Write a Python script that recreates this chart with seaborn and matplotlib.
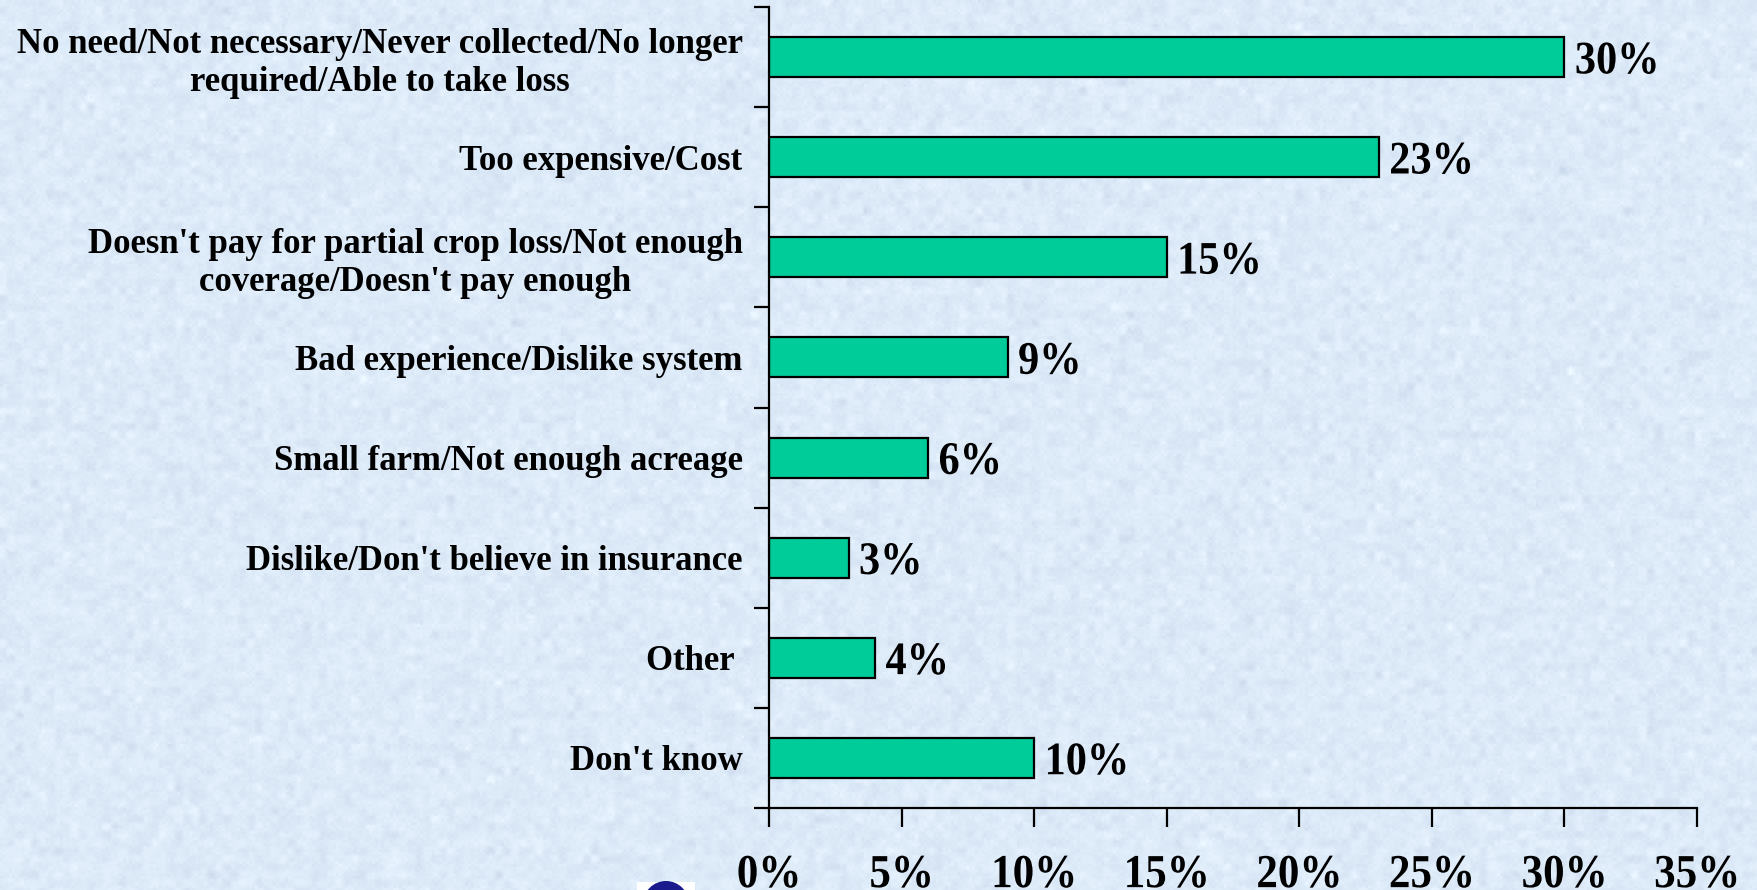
import matplotlib
matplotlib.use("Agg")
import matplotlib.pyplot as plt
import seaborn as sns
import pandas as pd
import numpy as np
from matplotlib.patches import Ellipse, Rectangle
from matplotlib.ticker import FixedLocator
from matplotlib.patheffects import AbstractPathEffect
from matplotlib.transforms import Affine2D

reasons = [
    "No need/Not necessary/Never collected/No longer\nrequired/Able to take loss",
    "Too expensive/Cost",
    "Doesn't pay for partial crop loss/Not enough\ncoverage/Doesn't pay enough",
    "Bad experience/Dislike system",
    "Small farm/Not enough acreage",
    "Dislike/Don't believe in insurance",
    "Other ",
    "Don't know",
]
shares = [30, 23, 15, 9, 6, 3, 4, 10]
x_ticks = [0, 5, 10, 15, 20, 25, 30, 35]
x_tick_labels = [f"{t}%" for t in x_ticks]

df = pd.DataFrame({"reason": reasons, "share": shares})


class TallText(AbstractPathEffect):
    """Draw glyphs slightly taller, stretching about a fixed glyph height."""

    def __init__(self, factor, anchor):
        super().__init__()
        self.stretch = (Affine2D().translate(0, -anchor)
                        .scale(1, factor).translate(0, anchor))

    def draw_path(self, renderer, gc, tpath, affine, rgbFace=None):
        renderer.draw_path(gc, tpath, self.stretch + affine, rgbFace)


sns.set_theme(style="white")
plt.rcParams["font.family"] = ["Liberation Serif", "DejaVu Serif"]
plt.rcParams["font.weight"] = "bold"

W, H = 1758, 890
fig = plt.figure(figsize=(W / 100, H / 100), dpi=100)
bg = "#dce9f8"
fig.patch.set_facecolor(bg)


def box_blur(a, k):
    pad = k // 2
    a = np.pad(a, pad, mode="edge")
    c = np.cumsum(a, axis=0)
    a = (c[k:] - c[:-k]) / k
    c = np.cumsum(a, axis=1)
    return (c[:, k:] - c[:, :-k]) / k


# mottled pale-blue paper backdrop
rng = np.random.default_rng(7)
coarse = rng.normal(0, 1, (H // 8 + 3, W // 8 + 3))
coarse = np.kron(coarse, np.ones((8, 8)))
coarse = box_blur(coarse, 5)[:H, :W]
fine = rng.normal(0, 1, (H // 3 + 3, W // 3 + 3))
fine = np.kron(fine, np.ones((3, 3)))[:H, :W]
tex = 0.8 * coarse + 0.35 * fine
base = np.array([221, 234, 248], dtype=float)
tint = np.array([5.0, 4.5, 3.0])
img = np.clip(base[None, None, :] + tex[..., None] * tint[None, None, :], 0, 255) / 255.0
fig.figimage(img, 0, 0, zorder=-10, origin="upper")

ax = fig.add_axes([769 / W, 1 - 808 / H, (1697 - 769) / W, (808 - 7) / H])
ax.set_facecolor("none")

sns.barplot(data=df, x="share", y="reason", orient="h", color="#00cc99",
            edgecolor="black", linewidth=1.6, width=0.4, saturation=1, ax=ax)

ax.set_xlim(0, 35)
ax.set_ylim(len(reasons) - 0.5, -0.5)
ax.set_xlabel("")
ax.set_ylabel("")

for container in ax.containers:
    texts = ax.bar_label(container, labels=[f"{v}%" for v in shares], padding=8,
                         fontsize=30.5, fontweight="bold", color="black")
    for t in texts:
        t.xyann = (7.5, -3.5)
        t.set_path_effects([TallText(1.1, 34)])

ax.set_xticks(x_ticks)
ax.set_xticklabels(x_tick_labels, fontsize=31, fontweight="bold", color="black")
for t in ax.get_xticklabels():
    t.set_path_effects([TallText(1.1, 68)])
ax.tick_params(axis="x", direction="out", length=14, width=1.6, pad=20,
               colors="black", bottom=True)

ax.set_yticks(range(len(reasons)))
ax.set_yticklabels(reasons, fontsize=25, fontweight="bold", color="black",
                   multialignment="center")
ax.tick_params(axis="y", which="major", length=0, pad=19)
ax.yaxis.set_minor_locator(FixedLocator(np.arange(-0.5, len(reasons), 1.0)))
ax.tick_params(axis="y", which="minor", direction="out", length=11, width=1.6,
               left=True, color="black")

for side in ("top", "right"):
    ax.spines[side].set_visible(False)
for side in ("left", "bottom"):
    ax.spines[side].set_color("black")
    ax.spines[side].set_linewidth(1.6)

# logo peeking in at the bottom edge
fig.patches.append(Rectangle((637 / W, 0), 58 / W, 8 / H, transform=fig.transFigure,
                             facecolor="white", edgecolor="none"))
fig.patches.append(Ellipse((666 / W, -14 / H), 46 / W, 46 / H, transform=fig.transFigure,
                           facecolor="#1a1a8c", edgecolor="none"))

fig.savefig("out.png", dpi=100, facecolor=bg)
